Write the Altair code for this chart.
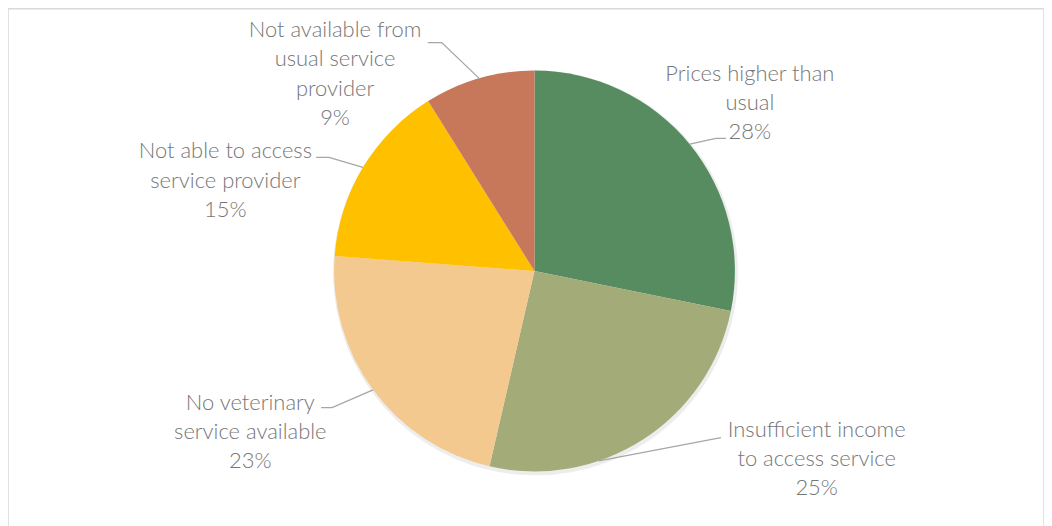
import math
import altair as alt
import pandas as pd

# ---- data ----
categories = [
    "Prices higher than usual",
    "Insufficient income to access service",
    "No veterinary service available",
    "Not able to access service provider",
    "Not available from usual service provider",
]
values = [28.2, 25.4, 22.6, 14.9, 8.9]   # percent
label_names = [
    "Prices higher than\nusual",
    "Insufficient income\nto access service",
    "No veterinary\nservice available",
    "Not able to access\nservice provider",
    "Not available from\nusual service\nprovider",
]
colors = ["#578C61", "#A3AB78", "#F3C98F", "#FFC000", "#C8785A"]

# ---- layout (pixels, view coordinates) ----
CX, CY, R = 528, 263, 201
label_x = [744, 811, 243, 218, 328]
label_y = [65, 422, 395, 143, 21]          # first text line
leader_start_shift = [0, 14, 0, 0, 0]       # degrees shift of anchor on arc
leader_elbow = [(710, 130), (715, 430), (325, 400), (322, 149), (435, 34)]
leader_end = [(720, 130), (715, 430), (314, 400), (309, 149), (421, 34)]

total = sum(values)
idx = list(range(len(categories)))
pie_df = pd.DataFrame({"cat": categories, "value": values, "idx": idx})

texts = [f"{n}\n{round(v / total * 100):.0f}%" for n, v in zip(label_names, values)]
lab_df = pd.DataFrame({"cat": categories, "text": texts, "x": label_x, "y": label_y})

rows = []
cum = 0
for i, (c, v) in enumerate(zip(categories, values)):
    mid = (cum + v / 2) / total * 360 + leader_start_shift[i]
    cum += v
    a = math.radians(mid)
    sx = CX + R * math.sin(a)
    sy = CY - R * math.cos(a)
    pts = [(sx, sy), leader_elbow[i], leader_end[i]]
    for k, (px, py) in enumerate(pts):
        rows.append({"cat": c, "k": k, "x": px, "y": py})
lead_df = pd.DataFrame(rows)

color_scale = alt.Scale(domain=categories, range=colors)

shadow = alt.Chart(pie_df).mark_arc(radius=R + 2, color="#000000", opacity=0.07).encode(
    theta=alt.Theta("value:Q", stack=True),
    order=alt.Order("idx:Q"),
    x=alt.value(CX + 1),
    y=alt.value(CY + 2),
)

pie = alt.Chart(pie_df).mark_arc(radius=R).encode(
    theta=alt.Theta("value:Q", stack=True),
    color=alt.Color("cat:N", scale=color_scale, legend=None),
    order=alt.Order("idx:Q"),
    x=alt.value(CX),
    y=alt.value(CY),
)

leaders = alt.Chart(lead_df).mark_line(color="#A6A6A6", strokeWidth=1.3).encode(
    x=alt.X("x:Q", scale=None),
    y=alt.Y("y:Q", scale=None),
    detail="cat:N",
    order="k:Q",
)

labels = alt.Chart(lab_df).mark_text(
    font="Lato", fontSize=22, fontWeight=300, color="#767676", lineBreak="\n", lineHeight=29.5,
    align="center", baseline="middle",
).encode(
    x=alt.X("x:Q", scale=None),
    y=alt.Y("y:Q", scale=None),
    text="text:N",
)

chart = alt.layer(shadow, pie, leaders, labels).properties(
    width=1039, height=522,
    autosize=alt.AutoSizeParams(type="none"),
    padding=0,
).configure_view(stroke="#D9D9D9", strokeWidth=1.5)

chart.save("out.html", embed_options={"renderer": "svg", "actions": False})
